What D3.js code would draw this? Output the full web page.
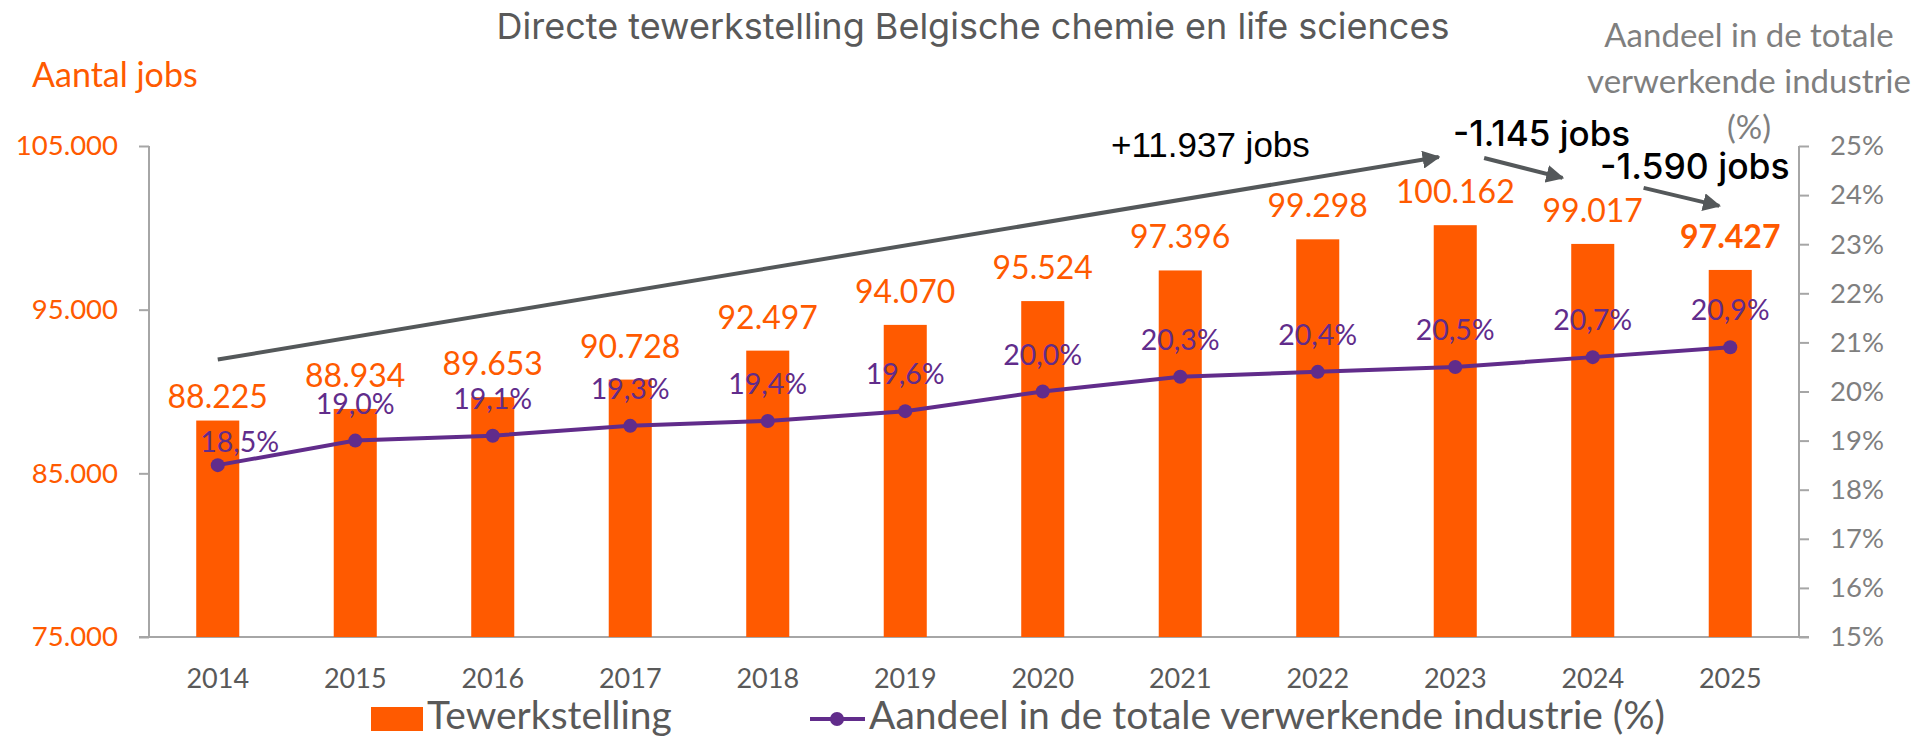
<!DOCTYPE html>
<html lang="nl">
<head>
<meta charset="utf-8" />
<script src="https://d3js.org/d3.v7.min.js"></script>
<style>
  body { margin: 0; background: #fff; }
  svg { display: block; }
  .lbl { font-family: Lato, "Open Sans", sans-serif; }
</style>
</head>
<body>
<script>
  const years = [2014, 2015, 2016, 2017, 2018, 2019, 2020, 2021, 2022, 2023, 2024, 2025];
  const jobs = [88225, 88934, 89653, 90728, 92497, 94070, 95524, 97396, 99298, 100162, 99017, 97427];
  const share = [18.5, 19.0, 19.1, 19.3, 19.4, 19.6, 20.0, 20.3, 20.4, 20.5, 20.7, 20.9];
  const jobTicks = [75000, 85000, 95000, 105000];
  const shareTicks = [15, 16, 17, 18, 19, 20, 21, 22, 23, 24, 25];
  const seriesNames = ["Tewerkstelling", "Aandeel in de totale verwerkende industrie (%)"];
  const arrowNotes = [
    { text: "+11.937 jobs", from: [0, 91950], to: [8.88, 104330] },
    { text: "-1.145 jobs", from: [9.21, 104270], to: [9.78, 103050] },
    { text: "-1.590 jobs", from: [10.37, 102440], to: [10.92, 101340] }
  ];

  const w = 1929, h = 739;
  const padL = 149, padR = 1799, plotTop = 146, plotBottom = 637;
  const orange = "#ff5a00", purple = "#612c8b", axisGray = "#a6a6a6", textGray = "#595959";

  const nl = d3.formatLocale({ decimal: ",", thousands: ".", grouping: [3], currency: ["€", ""] });
  const fmtJobs = nl.format(",d");
  const fmtPct = d => nl.format(".1f")(d) + "%";

  const svg = d3.select("body").append("svg").attr("width", w).attr("height", h);

  const x = d3.scaleBand().domain(years).range([padL, padR]).paddingInner(0.687).paddingOuter(0.3435);
  const yJobs = d3.scaleLinear().domain([75000, 105000]).range([plotBottom, plotTop]);
  const yShare = d3.scaleLinear().domain([15, 25]).range([plotBottom, plotTop]);
  const cx = yr => x(yr) + x.bandwidth() / 2;
  const xi = d3.scaleLinear().domain([0, 11]).range([cx(years[0]), cx(years[11])]);

  // axes
  const yAxisL = d3.axisLeft(yJobs).tickValues(jobTicks).tickFormat(fmtJobs).tickSize(10).tickPadding(21);
  const gL = svg.append("g").attr("transform", `translate(${padL},0)`).call(yAxisL);
  const yAxisR = d3.axisRight(yShare).tickValues(shareTicks).tickFormat(d => d + "%").tickSize(10).tickPadding(21);
  const gR = svg.append("g").attr("transform", `translate(${padR},0)`).call(yAxisR);
  [gL, gR].forEach(g => {
    g.select(".domain").remove();
    g.selectAll(".tick line").attr("stroke", axisGray).attr("stroke-width", 2);
    g.selectAll("text").attr("class", "lbl").style("font-size", "27.5px");
  });
  gL.selectAll("text").attr("fill", orange);
  gR.selectAll("text").attr("fill", "#7f7f7f");

  svg.append("line").attr("x1", padL).attr("x2", padL).attr("y1", plotTop).attr("y2", plotBottom)
    .attr("stroke", axisGray).attr("stroke-width", 2);
  svg.append("line").attr("x1", padR).attr("x2", padR).attr("y1", plotTop).attr("y2", plotBottom)
    .attr("stroke", axisGray).attr("stroke-width", 2);
  svg.append("line").attr("x1", padL - 10).attr("x2", padR + 10).attr("y1", plotBottom).attr("y2", plotBottom)
    .attr("stroke", axisGray).attr("stroke-width", 2);

  svg.selectAll(".xlab").data(years).enter().append("text")
    .attr("class", "lbl").attr("x", d => cx(d)).attr("y", 688)
    .attr("text-anchor", "middle").attr("fill", textGray).style("font-size", "27px")
    .text(d => d);

  // bars
  svg.selectAll(".bar").data(jobs).enter().append("rect")
    .attr("x", (d, i) => x(years[i])).attr("width", x.bandwidth())
    .attr("y", d => yJobs(d)).attr("height", d => plotBottom - yJobs(d))
    .attr("fill", orange);

  svg.selectAll(".barlab").data(jobs).enter().append("text")
    .attr("class", "lbl")
    .attr("x", (d, i) => cx(years[i]))
    .attr("y", (d, i) => yJobs(d) - (i === 0 ? 13 : 22))
    .attr("text-anchor", "middle").attr("fill", orange)
    .style("font-size", "32px").style("font-weight", (d, i) => i === 11 ? 700 : 400)
    .text(d => fmtJobs(d));

  // line
  const line = d3.line().x((d, i) => cx(years[i])).y(d => yShare(d));
  svg.append("path").datum(share).attr("d", line)
    .attr("fill", "none").attr("stroke", purple).attr("stroke-width", 4);
  svg.selectAll(".dot").data(share).enter().append("circle")
    .attr("cx", (d, i) => cx(years[i])).attr("cy", d => yShare(d)).attr("r", 7).attr("fill", purple);
  svg.selectAll(".pctlab").data(share).enter().append("text")
    .attr("class", "lbl")
    .attr("x", (d, i) => cx(years[i]) + (i === 0 ? 22 : 0))
    .attr("y", (d, i) => yShare(d) - (i === 0 ? 13 : 27))
    .attr("text-anchor", "middle").attr("fill", purple).style("font-size", "28.5px")
    .text(d => fmtPct(d));

  // arrows
  svg.append("defs").append("marker")
    .attr("id", "head").attr("viewBox", "0 0 10 10").attr("refX", 9).attr("refY", 5)
    .attr("markerWidth", 4.5).attr("markerHeight", 4.5).attr("orient", "auto")
    .append("path").attr("d", "M0,0 L10,5 L0,10 Z").attr("fill", "#54585a");

  svg.selectAll(".arrow").data(arrowNotes).enter().append("line")
    .attr("x1", d => xi(d.from[0])).attr("y1", d => yJobs(d.from[1]))
    .attr("x2", d => xi(d.to[0])).attr("y2", d => yJobs(d.to[1]))
    .attr("stroke", "#54585a").attr("stroke-width", 4)
    .attr("marker-end", "url(#head)");

  svg.append("text").attr("x", 1111).attr("y", 157)
    .style("font-family", "'Liberation Sans', Arial, sans-serif").style("font-size", "35px")
    .attr("fill", "#000").text(arrowNotes[0].text);
  svg.append("text").attr("x", 1453).attr("y", 146)
    .style("font-family", "Inter, sans-serif").style("font-size", "35px").style("font-weight", 500)
    .attr("fill", "#000").text(arrowNotes[1].text);
  svg.append("text").attr("x", 1600).attr("y", 179)
    .style("font-family", "Inter, sans-serif").style("font-size", "35.5px").style("font-weight", 500)
    .attr("fill", "#000").text(arrowNotes[2].text);

  // titles
  svg.append("text").attr("x", 973).attr("y", 39).attr("text-anchor", "middle")
    .style("font-family", "Inter, sans-serif").style("font-size", "36px")
    .attr("fill", textGray).text("Directe tewerkstelling Belgische chemie en life sciences");

  svg.append("text").attr("class", "lbl").attr("x", 32).attr("y", 87)
    .style("font-size", "34px").attr("fill", orange).text("Aantal jobs");

  const rTitle = svg.append("text").attr("class", "lbl").attr("text-anchor", "middle")
    .style("font-size", "33px").attr("fill", "#7f7f7f");
  ["Aandeel in de totale", "verwerkende industrie", "(%)"].forEach((t, i) => {
    rTitle.append("tspan").attr("x", 1749).attr("y", 47 + i * 46).text(t);
  });

  // legend
  svg.append("rect").attr("x", 371).attr("y", 707).attr("width", 52).attr("height", 24).attr("fill", orange);
  svg.append("text").attr("class", "lbl").attr("x", 427).attr("y", 729)
    .style("font-size", "39px").attr("fill", textGray).text(seriesNames[0]);
  svg.append("line").attr("x1", 810).attr("x2", 865).attr("y1", 719).attr("y2", 719)
    .attr("stroke", purple).attr("stroke-width", 4);
  svg.append("circle").attr("cx", 837).attr("cy", 719).attr("r", 7).attr("fill", purple);
  svg.append("text").attr("class", "lbl").attr("x", 869).attr("y", 729)
    .style("font-size", "39px").attr("fill", textGray).text(seriesNames[1]);
</script>
</body>
</html>
